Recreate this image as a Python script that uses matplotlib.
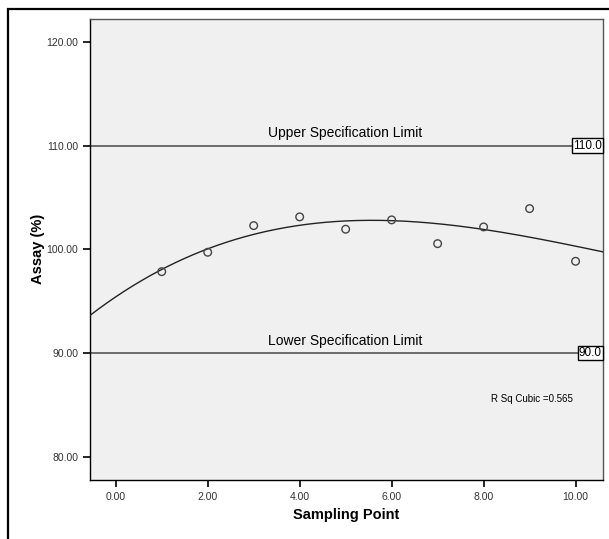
import numpy as np
import matplotlib
matplotlib.use("Agg")
import matplotlib.pyplot as plt
from matplotlib.patches import Rectangle

plt.rcParams["font.family"] = ["Liberation Sans", "DejaVu Sans"]

''' Data '''
sampling_point = [1, 2, 3, 4, 5, 6, 7, 8, 9, 10]
assay = [97.84, 99.71, 102.28, 103.12, 101.93, 102.83, 100.54, 102.15, 103.92, 98.84]
usl = 110.0
lsl = 90.0
r_sq_cubic = 0.565
x_ticks = [0, 2, 4, 6, 8, 10]
y_ticks = [80, 90, 100, 110, 120]

''' Cubic fit '''
coef = np.polyfit(sampling_point, assay, 3)
xs = np.linspace(-0.56, 10.59, 300)
ys = np.polyval(coef, xs)

''' Plot '''
W, H = 609, 539
fig = plt.figure(figsize=(W / 100, H / 100), dpi=100)
fig.patches.append(Rectangle((8 / W, -0.1), 1.2, 1 - 9 / H + 0.1, transform=fig.transFigure,
                             fill=False, edgecolor="black", linewidth=1.6))

ax = fig.add_axes([90 / W, 1 - 479.7 / H, (602.7 - 90) / W, (479.7 - 19) / H])
ax.set_facecolor("#f0f0f0")
ax.set_xlim(-0.56, 10.59)
ax.set_ylim(77.78, 122.2)

ax.axhline(usl, color="#555555", linewidth=1.2, zorder=2)
ax.axhline(lsl, color="#555555", linewidth=1.2, zorder=2)
ax.text(4.98, usl + 0.5, "Upper Specification Limit", ha="center", va="bottom", fontsize=10)
ax.text(4.98, lsl + 0.5, "Lower Specification Limit", ha="center", va="bottom", fontsize=10)

box = dict(boxstyle="square,pad=0.1", facecolor="white", edgecolor="black", linewidth=1)
ax.text(10.57, usl, f"{usl:.1f}", ha="right", va="center", fontsize=8.5, bbox=box, zorder=5)
ax.text(10.57, lsl, f"{lsl:.1f}", ha="right", va="center", fontsize=8.5, bbox=box, zorder=5)

ax.plot(xs, ys, color="#222222", linewidth=1, zorder=3)
ax.scatter(sampling_point, assay, s=30, facecolors="none", edgecolors="#444444",
           linewidths=1, zorder=4)

ax.text(9.05, 85.6, f"R Sq Cubic ={r_sq_cubic:.3f}", ha="center", va="center", fontsize=7)

ax.set_xticks(x_ticks)
ax.set_xticklabels([f"{v:.2f}" for v in x_ticks])
ax.set_yticks(y_ticks)
ax.set_yticklabels([f"{v:.2f}" for v in y_ticks])
ax.tick_params(direction="out", length=5, width=1.2, labelsize=7.5, color="black", labelcolor="#333333")
for s in ["top", "right"]:
    ax.spines[s].set_color("#555555")
for s in ax.spines.values():
    s.set_linewidth(1)

ax.set_xlabel("Sampling Point", fontsize=10.5, fontweight="bold", labelpad=5)
ax.set_ylabel("Assay (%)", fontsize=10.5, fontweight="bold")
ax.yaxis.set_label_coords(-0.087, 0.5)

fig.savefig("out.png", dpi=100)
